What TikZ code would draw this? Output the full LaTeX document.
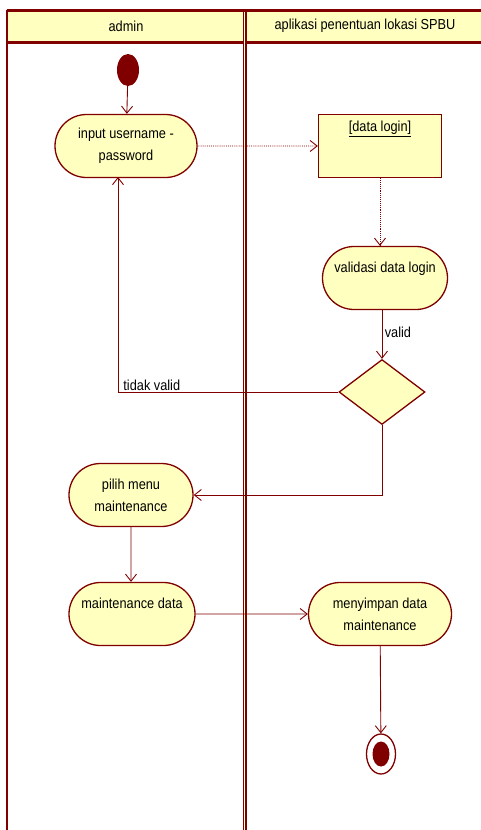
\documentclass[tikz,border=0pt]{standalone}
\usepackage{fontspec}
\setmainfont[FakeStretch=0.88]{Liberation Sans}
\usetikzlibrary{arrows.meta,positioning,shapes.geometric,shapes.misc}
\definecolor{maroon}{RGB}{128,0,0}
\definecolor{cream}{RGB}{255,255,192}

\begin{document}
\begin{tikzpicture}[x=1pt,y=-1pt,
    font=\fontsize{14.5}{22}\selectfont,
    act/.style={draw=maroon,fill=cream,line width=1.3pt,rounded rectangle,minimum width=#1,minimum height=63pt,align=center,inner sep=0pt},
    flow/.style={draw=maroon,line width=0.9pt,-{Straight Barb[length=7pt,width=11pt,line width=0.9pt]}},
    obj/.style={flow,densely dotted}]
    \useasboundingbox (0,0) rectangle (481,830);
    \fill[cream] (7,10) rectangle (481,42);
    \draw[maroon,line width=3pt] (7,10) -- (481,10) (7,42) -- (481,42);
    \draw[maroon,line width=2pt] (7,10) -- (7,830);
    \draw[maroon,line width=4pt] (244.5,10) -- (244.5,830);
    \draw[cream!60!white,line width=0.8pt] (244.5,12) -- (244.5,830);
    \node at (126,26) {admin};
    \node at (365,26) {aplikasi penentuan lokasi SPBU};

    \node[ellipse,fill=maroon,minimum width=22pt,minimum height=32pt,inner sep=0pt] (start) at (128,70) {};
    \node[act=142pt] (input) at (126,146) {input username -\\password};
    \node[draw=maroon,fill=cream,line width=1.3pt,minimum width=123pt,minimum height=63pt] (login) at (380,146) {};
    \node[anchor=north] at ([yshift=-4pt]login.north) {\underline{[data login]}};
    \node[act=125pt,text depth=22pt] (validasi) at (385,278) {validasi data login};
    \node[diamond,draw=maroon,fill=cream,line width=1.3pt,minimum width=86pt,minimum height=65pt,inner sep=0pt,aspect=1.3] (cek) at (382,392) {};
    \node[act=124pt] (pilih) at (131,495) {pilih menu\\maintenance};
    \node[act=126pt,text depth=22pt] (maint) at (132,614) {maintenance data};
    \node[act=143pt] (simpan) at (380,614) {menyimpan data\\maintenance};
    \node[ellipse,draw=maroon,fill=white,line width=1.3pt,minimum width=29pt,minimum height=40pt,inner sep=0pt] (end) at (381,754) {};
    \node[ellipse,fill=maroon,minimum width=17pt,minimum height=25pt,inner sep=0pt] at (end) {};

    \draw[flow] (start) -- (input);
    \draw[obj] (input) -- (login);
    \draw[obj] (login.south) -- (login.south |- validasi.north);
    \draw[flow] (validasi.south -| cek.north) -- node[right=-1pt,pos=0.45] {valid} (cek.north);
    \draw[flow] (cek.west) -| node[anchor=south west,pos=0.5,inner sep=1pt,xshift=4pt] {tidak valid} (118,177);
    \draw[flow] (cek.south) |- (pilih.east);
    \draw[flow] (pilih) -- (pilih.south |- maint.north);
    \draw[flow] (maint) -- (simpan);
    \draw[flow] (simpan) -- (end);
\end{tikzpicture}
\end{document}
